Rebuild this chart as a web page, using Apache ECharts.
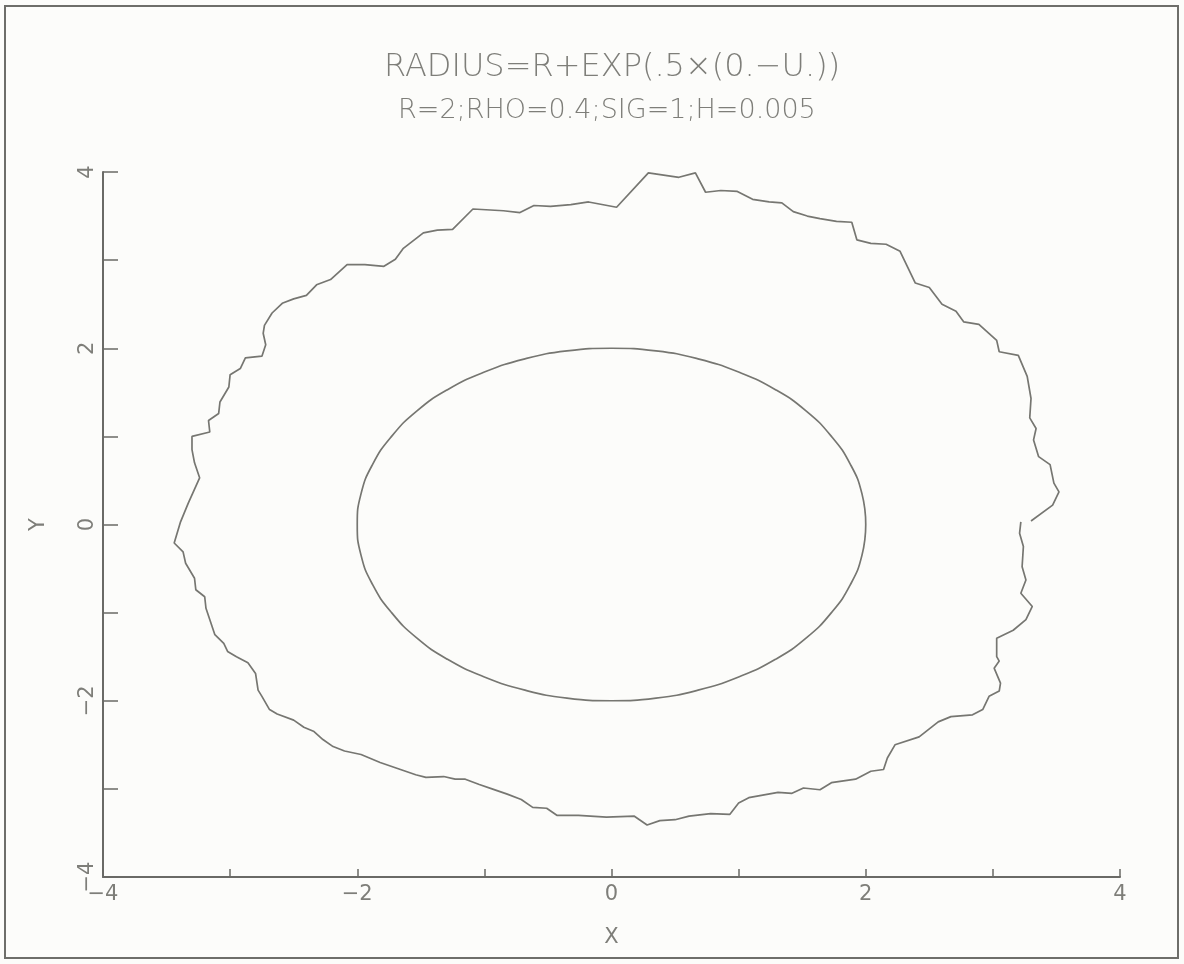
<!DOCTYPE html>
<html>
<head>
<meta charset="utf-8">
<script src="https://cdn.jsdelivr.net/npm/echarts@6/dist/echarts.min.js"></script>
<style>
html,body{margin:0;padding:0;background:#fcfcfa;}
#chart{width:1184px;height:964px;}
</style>
</head>
<body>
<div id="chart"></div>
<script>
// ---- data ----
var titleText = 'RADIUS=R+EXP(.5×(0.−U.))';
var subtitleText = 'R=2;RHO=0.4;SIG=1;H=0.005';
var xAxisName = 'X';
var yAxisName = 'Y';
var xTicks = [-4, -3, -2, -1, 0, 1, 2, 3, 4];
var yTicks = [-4, -3, -2, -1, 0, 1, 2, 3, 4];

// outer (noisy) boundary, traced counter-clockwise from the break on the right
var outerCurve = [
  [3.30,0.04],[3.47,0.22],[3.52,0.37],[3.48,0.47],[3.45,0.68],[3.36,0.77],[3.32,0.96],[3.34,1.09],
  [3.29,1.21],[3.30,1.43],[3.27,1.68],[3.20,1.92],[3.05,1.96],[3.03,2.09],[2.89,2.27],[2.77,2.30],
  [2.71,2.42],[2.60,2.50],[2.50,2.69],[2.39,2.74],[2.27,3.10],[2.16,3.18],[2.04,3.19],[1.93,3.23],
  [1.89,3.43],[1.77,3.44],[1.64,3.47],[1.54,3.50],[1.43,3.55],[1.34,3.65],[1.24,3.66],[1.11,3.69],
  [0.99,3.78],[0.86,3.79],[0.74,3.77],[0.66,3.99],[0.53,3.94],[0.29,3.99],[0.04,3.60],[-0.18,3.66],
  [-0.32,3.63],[-0.48,3.61],[-0.61,3.62],[-0.72,3.54],[-0.85,3.56],[-1.09,3.58],[-1.25,3.35],[-1.37,3.34],
  [-1.48,3.31],[-1.64,3.13],[-1.70,3.01],[-1.79,2.93],[-1.94,2.95],[-2.08,2.95],[-2.21,2.78],[-2.32,2.72],
  [-2.40,2.60],[-2.50,2.56],[-2.59,2.51],[-2.67,2.40],[-2.73,2.26],[-2.74,2.17],[-2.72,2.04],[-2.75,1.91],
  [-2.88,1.89],[-2.92,1.77],[-3.00,1.70],[-3.01,1.56],[-3.08,1.39],[-3.09,1.26],[-3.17,1.18],[-3.16,1.05],
  [-3.30,1.00],[-3.30,0.85],[-3.28,0.70],[-3.24,0.53],[-3.33,0.24],[-3.39,0.03],[-3.44,-0.21],[-3.37,-0.31],
  [-3.35,-0.44],[-3.28,-0.61],[-3.27,-0.74],[-3.20,-0.82],[-3.19,-0.95],[-3.12,-1.25],[-3.05,-1.35],[-3.02,-1.44],
  [-2.95,-1.50],[-2.86,-1.57],[-2.80,-1.69],[-2.78,-1.88],[-2.75,-1.95],[-2.69,-2.10],[-2.63,-2.15],[-2.50,-2.22],
  [-2.42,-2.30],[-2.34,-2.35],[-2.27,-2.44],[-2.19,-2.52],[-2.10,-2.57],[-1.97,-2.61],[-1.82,-2.70],[-1.66,-2.78],
  [-1.54,-2.84],[-1.46,-2.87],[-1.32,-2.86],[-1.23,-2.89],[-1.15,-2.89],[-1.04,-2.95],[-0.94,-3.00],[-0.82,-3.06],
  [-0.71,-3.12],[-0.62,-3.21],[-0.51,-3.22],[-0.43,-3.30],[-0.26,-3.30],[-0.04,-3.32],[0.18,-3.31],[0.28,-3.41],
  [0.38,-3.36],[0.50,-3.35],[0.61,-3.31],[0.78,-3.28],[0.93,-3.29],[1.00,-3.16],[1.08,-3.10],[1.31,-3.04],
  [1.42,-3.05],[1.51,-2.99],[1.64,-3.01],[1.73,-2.93],[1.92,-2.89],[2.04,-2.80],[2.14,-2.78],[2.17,-2.65],
  [2.23,-2.50],[2.42,-2.41],[2.57,-2.24],[2.67,-2.18],[2.84,-2.16],[2.92,-2.10],[2.97,-1.95],[3.05,-1.89],
  [3.06,-1.80],[3.01,-1.63],[3.05,-1.55],[3.03,-1.50],[3.03,-1.29],[3.16,-1.20],[3.26,-1.08],[3.31,-0.93],
  [3.22,-0.78],[3.26,-0.63],[3.23,-0.48],[3.24,-0.25],[3.21,-0.10],[3.22,0.03]
];

// inner circle of radius R=2 (points every 10 degrees)
var innerCurve = [
  [2.00,0.00],[1.97,0.35],[1.88,0.68],[1.73,1.00],[1.53,1.29],[1.29,1.53],[1.00,1.73],[0.68,1.88],[0.35,1.97],
  [0.00,2.00],[-0.35,1.97],[-0.68,1.88],[-1.00,1.73],[-1.29,1.53],[-1.53,1.29],[-1.73,1.00],[-1.88,0.68],[-1.97,0.35],
  [-2.00,0.00],[-1.97,-0.35],[-1.88,-0.68],[-1.73,-1.00],[-1.53,-1.29],[-1.29,-1.53],[-1.00,-1.73],[-0.68,-1.88],[-0.35,-1.97],
  [0.00,-2.00],[0.35,-1.97],[0.68,-1.88],[1.00,-1.73],[1.29,-1.53],[1.53,-1.29],[1.73,-1.00],[1.88,-0.68],[1.97,-0.35],
  [2.00,0.00]
];

// ---- chart ----
var lineColor = '#767671';
var axisColor = '#6a6a66';
var textColor = '#7e7e79';
var fontFam = '"DejaVu Sans", "Liberation Sans", sans-serif';

function fmt(v) {
  if (Math.round(v) % 2 !== 0) return '';
  return String(v).replace('-', '\u2212');
}

var chart = echarts.init(document.getElementById('chart'), null, {renderer: 'canvas'});
chart.setOption({
  backgroundColor: '#fcfcfa',
  animation: false,
  title: [
    {text: titleText, left: 379, top: 47,
     textStyle: {color: textColor, fontSize: 32, fontWeight: 'lighter', fontFamily: fontFam}},
    {text: subtitleText, left: 393, top: 92,
     textStyle: {color: textColor, fontSize: 27, fontWeight: 'lighter', fontFamily: fontFam}}
  ],
  grid: {left: 103, right: 64, top: 172, bottom: 87, containLabel: false},
  xAxis: {
    type: 'value', min: xTicks[0], max: xTicks[xTicks.length - 1], interval: 1,
    name: xAxisName, nameLocation: 'middle', nameGap: 50,
    nameTextStyle: {color: textColor, fontSize: 21, fontFamily: fontFam},
    axisLine: {show: true, onZero: false, lineStyle: {color: axisColor, width: 2}},
    axisTick: {show: true, inside: true, length: 8, lineStyle: {color: axisColor, width: 1.5}},
    axisLabel: {formatter: fmt, color: textColor, fontSize: 21, margin: 7, fontFamily: fontFam},
    splitLine: {show: false}
  },
  yAxis: {
    type: 'value', min: yTicks[0], max: yTicks[yTicks.length - 1], interval: 1,
    name: yAxisName, nameLocation: 'middle', nameGap: 54, nameRotate: 90,
    nameTextStyle: {color: textColor, fontSize: 21, fontFamily: fontFam},
    axisLine: {show: true, onZero: false, lineStyle: {color: axisColor, width: 2}},
    axisTick: {show: true, inside: true, length: 15, lineStyle: {color: axisColor, width: 1.5}},
    axisLabel: {formatter: fmt, color: textColor, fontSize: 21, margin: 5, rotate: 90, fontFamily: fontFam},
    splitLine: {show: false}
  },
  graphic: [
    {type: 'rect', shape: {x: 5, y: 6, width: 1173, height: 952},
     style: {fill: null, stroke: '#6e6e6a', lineWidth: 2}, silent: true}
  ],
  series: [
    {type: 'line', data: outerCurve, showSymbol: false, symbol: 'none',
     lineStyle: {color: lineColor, width: 1.7}},
    {type: 'line', data: innerCurve, showSymbol: false, symbol: 'none', smooth: true,
     lineStyle: {color: lineColor, width: 1.7}}
  ]
});
</script>
</body>
</html>
